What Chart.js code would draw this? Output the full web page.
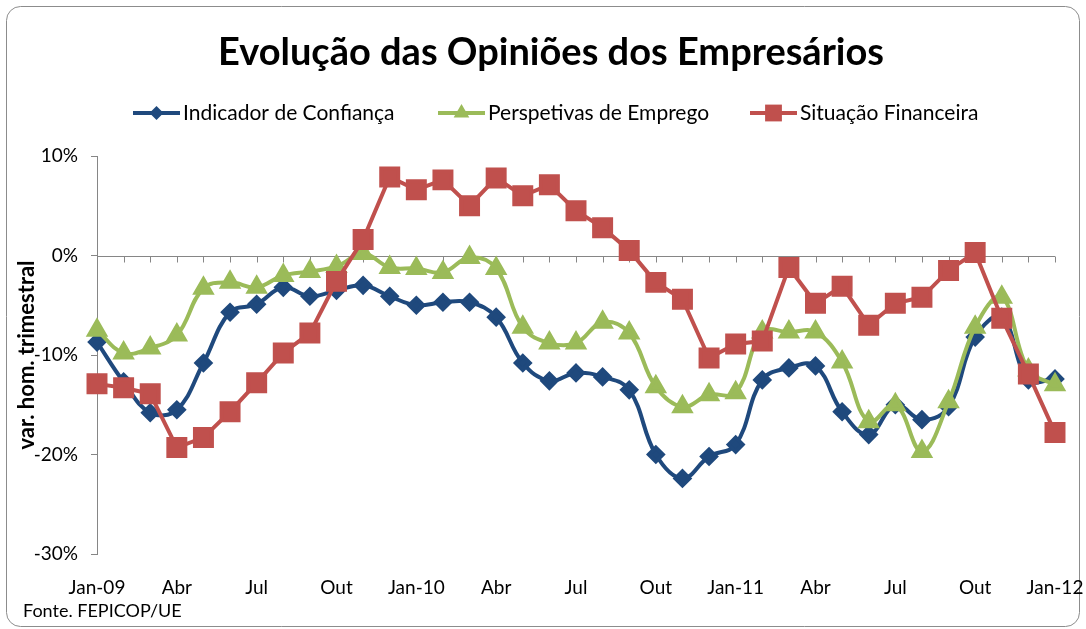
<!DOCTYPE html>
<html>
<head>
<meta charset="utf-8">
<script src="https://cdn.jsdelivr.net/npm/chart.js@4.4.0/dist/chart.umd.min.js"></script>
<style>
  html, body { margin: 0; padding: 0; background: #fff; }
  #wrap { width: 1086px; height: 629px; position: relative; }
</style>
</head>
<body>
<div id="wrap"><canvas id="chart" width="1086" height="629"></canvas></div>
<script>
// Data (% change, monthly, Jan-09 .. Jan-12)
const months = [
  'Jan-09', 'Fev', 'Mar', 'Abr', 'Mai', 'Jun', 'Jul', 'Ago', 'Set', 'Out', 'Nov', 'Dez',
  'Jan-10', 'Fev', 'Mar', 'Abr', 'Mai', 'Jun', 'Jul', 'Ago', 'Set', 'Out', 'Nov', 'Dez',
  'Jan-11', 'Fev', 'Mar', 'Abr', 'Mai', 'Jun', 'Jul', 'Ago', 'Set', 'Out', 'Nov', 'Dez',
  'Jan-12'
];
const yTicks = [10, 0, -10, -20, -30];

const indicadorConfianca = [
  -8.7, -12.7, -15.8, -15.5, -10.8, -5.7, -4.9, -3.2, -4.1, -3.5, -3.0, -4.1,
  -5.0, -4.7, -4.7, -6.2, -10.8, -12.6, -11.8, -12.2, -13.5, -20.0, -22.4, -20.2,
  -19.0, -12.5, -11.3, -11.1, -15.7, -18.0, -15.0, -16.5, -15.2, -8.2, -6.2, -12.5,
  -12.4
];
const perspetivasEmprego = [
  -7.5, -9.8, -9.3, -8.0, -3.3, -2.7, -3.2, -2.0, -1.6, -1.1, 0.2, -1.2,
  -1.3, -1.7, -0.2, -1.3, -7.2, -8.8, -8.8, -6.7, -7.8, -13.2, -15.2, -14.0,
  -13.8, -7.7, -7.7, -7.7, -10.7, -16.7, -15.0, -19.7, -14.7, -7.2, -4.2, -11.5,
  -13.0
];
const situacaoFinanceira = [
  -12.9, -13.3, -13.9, -19.3, -18.3, -15.7, -12.8, -9.8, -7.8, -2.6, 1.6, 7.9,
  6.6, 7.6, 5.0, 7.8, 6.0, 7.1, 4.5, 2.8, 0.5, -2.7, -4.4, -10.3,
  -8.9, -8.6, -1.2, -4.8, -3.1, -7.0, -4.8, -4.2, -1.5, 0.3, -6.3, -11.9,
  -17.8
];

const TITLE = 'Evolução das Opiniões dos Empresários';
const SOURCE = 'Fonte. FEPICOP/UE';

const FONT = 'Lato, "Open Sans", sans-serif';
const BLUE = '#1F497D';
const GREEN = '#9BBB59';
const RED = '#C0504D';
const AXIS = '#868686';

function marker(ctx, style, x, y, r, color) {
  ctx.save();
  ctx.fillStyle = color;
  ctx.beginPath();
  if (style === 'rectRot') {
    ctx.moveTo(x, y - r); ctx.lineTo(x + r, y); ctx.lineTo(x, y + r); ctx.lineTo(x - r, y);
  } else if (style === 'triangle') {
    ctx.moveTo(x, y - r); ctx.lineTo(x + r * 0.87, y + r * 0.5); ctx.lineTo(x - r * 0.87, y + r * 0.5);
  } else {
    ctx.rect(x - r * 0.7, y - r * 0.7, r * 1.4, r * 1.4);
  }
  ctx.closePath();
  ctx.fill();
  ctx.restore();
}

// frame, title, legend, source note and the 0% axis line with its ticks
const decorations = {
  id: 'decorations',
  beforeDraw(chart) {
    const ctx = chart.ctx;
    ctx.save();
    ctx.strokeStyle = '#8c8c8c';
    ctx.lineWidth = 1;
    ctx.beginPath();
    ctx.roundRect(6.5, 6.5, 1073, 620, 14);
    ctx.stroke();
    ctx.restore();
  },
  beforeDatasetsDraw(chart) {
    const { ctx, chartArea, scales } = chart;
    const y0 = Math.round(scales.y.getPixelForValue(0)) + 0.5;
    ctx.save();
    ctx.strokeStyle = AXIS;
    ctx.lineWidth = 1;
    ctx.beginPath();
    ctx.moveTo(chartArea.left, y0);
    ctx.lineTo(chartArea.right, y0);
    months.forEach((m, i) => {
      const x = Math.round(scales.x.getPixelForValue(i)) + 0.5;
      ctx.moveTo(x, y0);
      ctx.lineTo(x, y0 + 6);
    });
    ctx.stroke();
    ctx.restore();
  },
  afterDraw(chart) {
    const ctx = chart.ctx;
    ctx.save();
    ctx.fillStyle = '#000';
    ctx.textBaseline = 'middle';
    ctx.textAlign = 'center';
    ctx.font = 'bold 38px ' + FONT;
    ctx.fillText(TITLE, 551, 53);

    ctx.textAlign = 'left';
    const starts = [133, 438, 750];
    chart.data.datasets.forEach((ds, i) => {
      const x = starts[i], y = 113;
      ctx.strokeStyle = ds.borderColor;
      ctx.lineWidth = 4;
      ctx.beginPath();
      ctx.moveTo(x, y);
      ctx.lineTo(x + 47, y);
      ctx.stroke();
      marker(ctx, ds.pointStyle, x + 23.5, y, ds.pointRadius, ds.borderColor);
      ctx.fillStyle = '#000';
      ctx.font = '21px ' + FONT;
      ctx.fillText(ds.label, x + 50, y);
    });
    ctx.font = '18px ' + FONT;
    ctx.fillText(SOURCE, 23, 611);
    ctx.restore();
  }
};

new Chart(document.getElementById('chart'), {
  type: 'line',
  data: {
    labels: months,
    datasets: [{
      label: 'Indicador de Confiança',
      data: indicadorConfianca,
      borderColor: BLUE,
      backgroundColor: BLUE,
      borderWidth: 4,
      tension: 0.4,
      pointStyle: 'rectRot',
      pointRadius: 7,
      order: 2
    }, {
      label: 'Perspetivas de Emprego',
      data: perspetivasEmprego,
      borderColor: GREEN,
      backgroundColor: GREEN,
      borderWidth: 4,
      tension: 0.4,
      pointStyle: 'triangle',
      pointRadius: 9,
      order: 1
    }, {
      label: 'Situação Financeira',
      data: situacaoFinanceira,
      borderColor: RED,
      backgroundColor: RED,
      borderWidth: 4,
      tension: 0,
      pointStyle: 'rect',
      pointRadius: 12,
      order: 0
    }]
  },
  options: {
    responsive: false,
    animation: false,
    layout: { padding: { top: 156, left: 0, right: 31, bottom: 0 } },
    plugins: {
      legend: { display: false },
      tooltip: { enabled: false },
      title: { display: false }
    },
    scales: {
      x: {
        offset: false,
        border: { display: false },
        grid: { display: false },
        ticks: {
          autoSkip: false,
          maxRotation: 0,
          padding: 14,
          color: '#000',
          font: { family: FONT, size: 19 },
          callback: (v, i) => (i % 3 === 0 ? months[i] : '')
        },
        afterFit: s => {
          s.height = 75;
          s.paddingLeft = 0;
          s.paddingRight = 0;
        }
      },
      y: {
        min: -30,
        max: 10,
        border: { display: true, color: AXIS },
        grid: { drawOnChartArea: false, drawTicks: true, tickLength: 6, color: AXIS },
        ticks: {
          stepSize: 10,
          padding: 13,
          color: '#000',
          font: { family: FONT, size: 19 },
          callback: v => (yTicks.includes(v) ? v + '%' : '')
        },
        title: {
          display: true,
          text: 'var. hom. trimestral',
          color: '#000',
          font: { family: FONT, size: 22, weight: 'bold' },
          padding: { top: 14, bottom: 0 }
        },
        afterFit: s => {
          s.width = 97;
          s.paddingTop = 0;
          s.paddingBottom = 0;
        }
      }
    }
  },
  plugins: [decorations]
});
</script>
</body>
</html>
